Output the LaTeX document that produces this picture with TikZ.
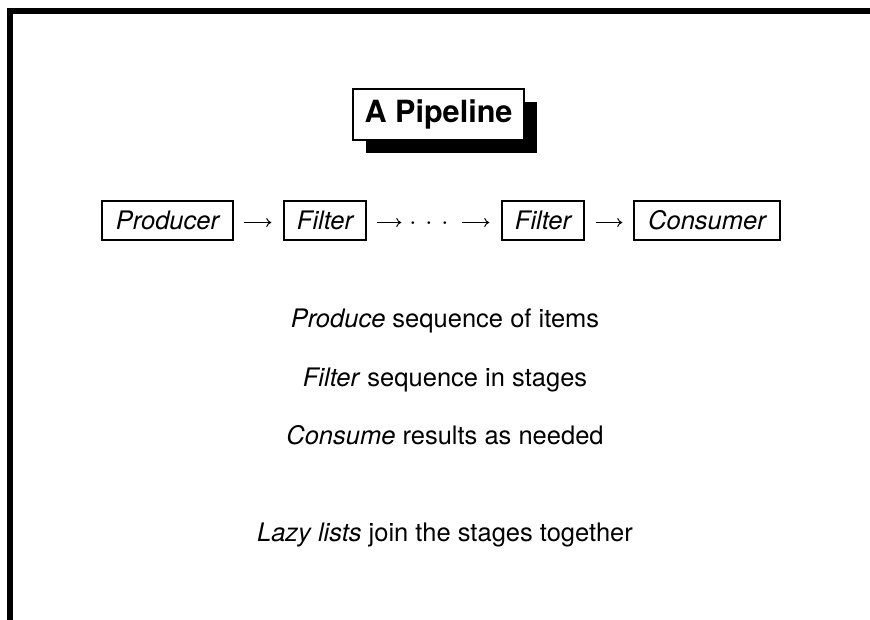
\documentclass[tikz,border=0pt]{standalone}
\usepackage{fix-cm}
\usepackage{fontspec}
\setmainfont{TeX Gyre Heros}
\usetikzlibrary{arrows.meta,shadows}
\begin{document}
\begin{tikzpicture}[x=1pt,y=-1pt,
  bodytext/.style={font=\fontsize{25.5}{30}\selectfont, inner sep=0pt, anchor=base},
  titlebox/.style={draw, fill=white, line width=1.5pt,
    font=\fontsize{30.6}{36}\selectfont\bfseries,
    minimum width=171pt, minimum height=51pt, inner xsep=0pt, inner ysep=0pt,
    text height=22.3pt, text depth=6.5pt,
    drop shadow={shadow xshift=13pt, shadow yshift=-13pt, opacity=1, fill=black}},
  stagebox/.style={draw, line width=1.5pt,
    font=\fontsize{25.5}{30}\selectfont\itshape,
    inner xsep=0pt, inner ysep=0pt, minimum height=39pt,
    text height=18.4pt, text depth=0pt},
  conn/.style={line width=1pt, -{Computer Modern Rightarrow[length=5pt,width=9pt]}}
]
\useasboundingbox (0,0) rectangle (870,620);
% frame bars
\fill (7,8) rectangle (870,14);
\fill (7,8) rectangle (13,620);
% title
\node[titlebox] (title) at (438.5,114.5) {A Pipeline};
% pipeline row
\node[stagebox, minimum width=131pt] (prod) at (167.5,220.5) {Producer};
\node[stagebox, minimum width=82pt] (f1) at (325,220.5) {Filter};
\node[bodytext] (dots) at (429,229.7) {$\cdot$\hspace{8.9pt}$\cdot$\hspace{8.9pt}$\cdot$};
\node[stagebox, minimum width=82pt] (f2) at (543,220.5) {Filter};
\node[stagebox, minimum width=146pt] (cons) at (707,220.5) {Consumer};
\draw[conn, shorten <=10pt, shorten >=12pt] ([yshift=-2pt]prod.east) -- ([yshift=-2pt]f1.west);
\draw[conn, shorten <=10pt, shorten >=8pt] ([yshift=-2pt]f1.east) -- ([yshift=-2pt]f1.east -| dots.west);
\draw[conn, shorten <=13pt, shorten >=12pt] ([yshift=-2pt]f2.west -| dots.east) -- ([yshift=-2pt]f2.west);
\draw[conn, shorten <=11pt, shorten >=11pt] ([yshift=-2pt]f2.east) -- ([yshift=-2pt]cons.west);
% text lines
\node[bodytext] (l1) at (445,327) {\textit{Produce} sequence of items};
\node[bodytext] (l2) at (445,386) {\textit{Filter} sequence in stages};
\node[bodytext] (l3) at (445,444) {\textit{Consume} results as needed};
\node[bodytext] (l4) at (445,541) {\textit{Lazy lists} join the stages together};
\end{tikzpicture}
\end{document}
